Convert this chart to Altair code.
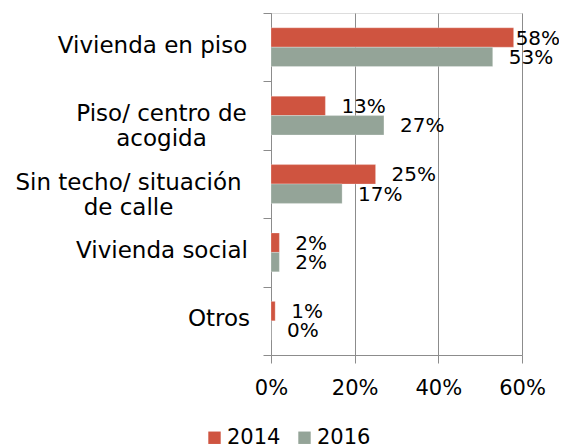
import altair as alt
import pandas as pd
import json

categories = ["Vivienda en piso", "Piso/ centro de acogida",
              "Sin techo/ situación de calle", "Vivienda social", "Otros"]
years = ["2014", "2016"]
values_2014 = [0.58, 0.13, 0.25, 0.02, 0.01]
values_2016 = [0.53, 0.27, 0.17, 0.02, 0.00]
x_ticks = [0, 0.2, 0.4, 0.6]

label_lines = {
    "Piso/ centro de acogida": ["Piso/ centro de", "acogida"],
    "Sin techo/ situación de calle": ["Sin techo/ situación", "de calle"],
}
# horizontal placement of each (centre-aligned) category label, from the axis ticks
label_pad = {
    "Vivienda en piso": 111,
    "Piso/ centro de acogida": 102,
    "Sin techo/ situación de calle": 135,
    "Vivienda social": 101.5,
    "Otros": 44.5,
}

rows = []
for c, a, b in zip(categories, values_2014, values_2016):
    rows.append({"cat": c, "year": years[0], "value": a})
    rows.append({"cat": c, "year": years[1], "value": b})
df = pd.DataFrame(rows)

FONT = "DejaVu Sans"
GRID = "#8c8c8c"
colors = ["#CF5440", "#94A498"]

expr = "datum.label"
for k, v in label_lines.items():
    expr = f"datum.value == {json.dumps(k)} ? {json.dumps(v)} : " + expr

pad_cond = {
    "condition": [{"test": f"datum.value == {json.dumps(k)}", "value": v}
                  for k, v in label_pad.items()],
    "value": 100,
}

y_enc = alt.Y("cat:N", sort=categories, title=None,
              scale=alt.Scale(paddingInner=0, paddingOuter=0),
              axis=alt.Axis(domain=True, domainColor=GRID, domainWidth=1,
                            ticks=True, tickBand="extent", tickSize=8,
                            tickColor=GRID, tickWidth=1, grid=False,
                            labelFont=FONT, labelFontSize=23, labelColor="#000000",
                            labelLineHeight=25, labelAlign="center",
                            labelBaseline="middle", labelOffset=-2,
                            labelPadding=pad_cond, labelExpr=expr,
                            labelLimit=400))
yoff = alt.YOffset("year:N", sort=years,
                   scale=alt.Scale(paddingInner=0, paddingOuter=0.763))

x_enc = alt.X("value:Q", title=None,
              scale=alt.Scale(domain=[0, 0.6], nice=False),
              axis=alt.Axis(values=x_ticks, format=".0%", grid=True,
                            gridColor=GRID, gridWidth=1, domainColor=GRID,
                            tickColor=GRID, tickSize=8, labelFont=FONT,
                            labelFontSize=21, labelColor="#000000",
                            labelPadding=14, labelFlush=False))

base = alt.Chart(df)

bars = base.mark_bar(stroke="#ffffff", strokeWidth=0.5, strokeOpacity=0.5).encode(
    x=x_enc, y=y_enc, yOffset=yoff,
    color=alt.Color("year:N", sort=years,
                    scale=alt.Scale(domain=years, range=colors),
                    legend=alt.Legend(title=None, orient="none", direction="horizontal",
                                      legendX=-67, legendY=414, padding=0,
                                      symbolType="square", symbolSize=154,
                                      symbolStrokeWidth=0, labelFont=FONT,
                                      labelFontSize=21, labelColor="#000000",
                                      labelOffset=2, columnPadding=13)),
)

labels = base.mark_text(align="left", baseline="middle", dx=16, dy=1,
                        font=FONT, fontSize=20, color="#000000").encode(
    x="value:Q", y=alt.Y("cat:N", sort=categories), yOffset=yoff,
    text=alt.Text("value:Q", format=".0%"),
).transform_filter("datum.value < 0.55")

labels_top = base.mark_text(align="left", baseline="middle", dx=2, dy=1,
                            font=FONT, fontSize=20, color="#000000").encode(
    x="value:Q", y=alt.Y("cat:N", sort=categories), yOffset=yoff,
    text=alt.Text("value:Q", format=".0%"),
).transform_filter("datum.value >= 0.55")

chart = alt.layer(bars, labels, labels_top).properties(
    width=251, height=342,
    autosize=alt.AutoSizeParams(type="none"),
    padding={"left": 263, "top": 5, "right": 37, "bottom": 93},
).configure_view(strokeWidth=0).configure(background="#ffffff")

chart.save("out.html", embed_options={"renderer": "svg", "actions": False})
